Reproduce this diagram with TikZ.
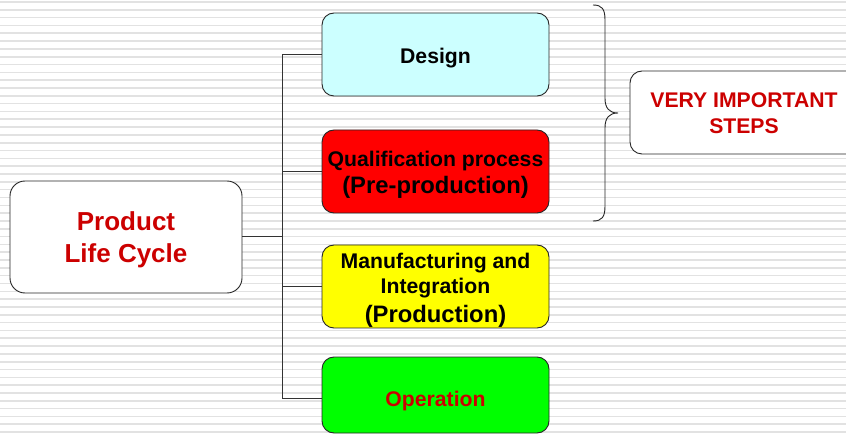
\documentclass[tikz,border=0pt]{standalone}
\usepackage{fontspec}
\setmainfont{Liberation Sans}
\definecolor{txtred}{HTML}{CC0000}
\definecolor{dcyan}{HTML}{CCFFFF}
\definecolor{qred}{HTML}{FF0000}
\definecolor{myel}{HTML}{FFFF00}
\definecolor{ogreen}{HTML}{00FF00}
\definecolor{stripe}{HTML}{E2E2E2}
\newcommand{\bigline}[1]{{\fontsize{23.8}{28}\selectfont #1}}
\tikzset{
  box/.style={draw=black!85, line width=0.9pt, rounded corners=12pt, inner sep=0pt},
  stepbox/.style={box, minimum width=227pt, minimum height=83pt},
  lbl/.style={align=center, inner sep=0pt, font=\bfseries\fontsize{21.2}{26}\selectfont},
  conn/.style={draw=black!80, line width=1pt},
}
\begin{document}
\begin{tikzpicture}[x=1pt,y=-1pt]
\useasboundingbox (0,0) rectangle (846,438);
\clip (0,0) rectangle (846,438);
\fill[white] (0,0) rectangle (846,438);
\foreach \i in {0,...,56} {
  \draw[stripe, line width=1.6pt] (0,2+7.82*\i) -- (846,2+7.82*\i);
}
\node[box, minimum width=232pt, minimum height=112pt, rounded corners=15pt, fill=white,
  label={[lbl, yshift=-3pt, text=txtred, font=\bfseries\fontsize{26}{32}\selectfont]center:Product\\Life Cycle}] (prod) at (126,237) {};
\node[stepbox, fill=dcyan, label={[lbl, yshift=-4pt]center:Design}] (design) at (435.5,54.5) {};
\node[stepbox, fill=qred, label={[lbl, yshift=-3pt]center:Qualification process\\[1pt]\bigline{(Pre-production)}}] (qual) at (435.5,171.5) {};
\node[stepbox, fill=myel, label={[lbl, yshift=-4pt, font=\bfseries\fontsize{21.2}{25}\selectfont]center:Manufacturing and\\Integration\\[4pt]\bigline{(Production)}}] (manuf) at (435.5,286.5) {};
\node[stepbox, fill=ogreen, minimum height=76pt, label={[lbl, yshift=-6pt, text=txtred]center:Operation}] (op) at (435.5,395) {};
\node[stepbox, minimum width=228pt, fill=white, label={[lbl, yshift=-1pt, text=txtred]center:VERY IMPORTANT\\STEPS}] (steps) at (744,112.5) {};
\coordinate (j) at (282,237);
\draw[conn] (prod.east) -- (j);
\draw[conn] (design.west) -| (j);
\draw[conn] (qual.west) -| (j);
\draw[conn] (manuf.west) -| (j);
\draw[conn] ([yshift=-3pt]op.west) -| (j);
\draw[draw=black!85, line width=0.9pt] (593,5) .. controls (602,5) and (605,9) .. (605,20)
  -- (605,98) .. controls (605,108) and (609,113) .. (618,113)
  .. controls (609,113) and (605,118) .. (605,128)
  -- (605,206) .. controls (605,217) and (602,221) .. (593,221);
\end{tikzpicture}
\end{document}
